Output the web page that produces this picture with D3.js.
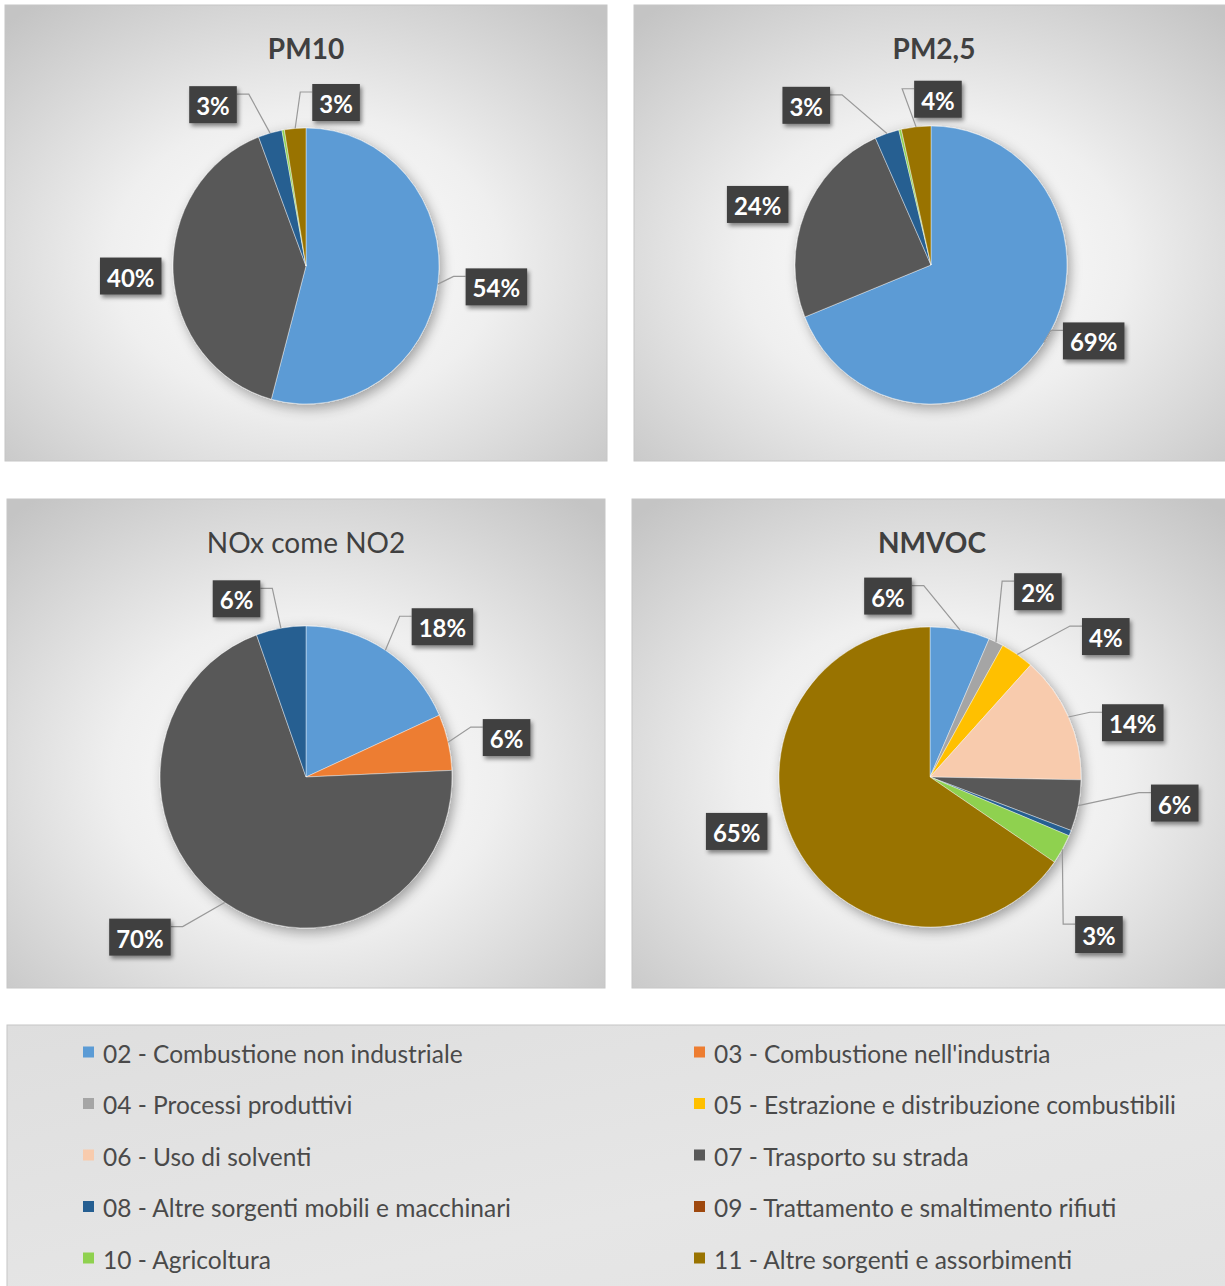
<!DOCTYPE html>
<html><head><meta charset="utf-8">
<script src="https://cdn.jsdelivr.net/npm/d3@7"></script>
<style>body{margin:0;background:#fff;} svg{display:block;}</style>
</head><body><svg id="chart" width="1225" height="1286"></svg>
<script>
// ---------- DATA ----------
const categories = [
  "02 - Combustione non industriale",
  "03 - Combustione nell'industria",
  "04 - Processi produttivi",
  "05 - Estrazione e distribuzione combustibili",
  "06 - Uso di solventi",
  "07 - Trasporto su strada",
  "08 - Altre sorgenti mobili e macchinari",
  "09 - Trattamento e smaltimento rifiuti",
  "10 - Agricoltura",
  "11 - Altre sorgenti e assorbimenti"
];
const pollutants = ["PM10", "PM2,5", "NOx come NO2", "NMVOC"];
// share (%) per category, same order as categories
const pm10Values  = [54.2, 0, 0, 0, 0, 40.0, 2.9, 0, 0.3, 2.6];
const pm25Values  = [68.9, 0, 0, 0, 0, 24.4, 2.9, 0, 0.3, 3.5];
const noxValues   = [18.3, 6.0, 0, 0, 0, 70.2, 5.5, 0, 0, 0];
const nmvocValues = [6.4, 0, 1.6, 3.6, 13.7, 5.5, 0.6, 0, 3.2, 65.4];
const seriesValues = [pm10Values, pm25Values, noxValues, nmvocValues];

// ---------- STYLE / LAYOUT ----------
const colors = ["#5B9BD5","#ED7D31","#A5A5A5","#FFC000","#F8CBAD","#595959","#255E91","#9E480E","#8FD14F","#997300"];
// label layout: category index -> [angle shift (deg) from slice middle, distance in radii, leader line]
const panels = [
  {x:5,   y:5,   w:602, h:456, cx:301, cy:261, rx:133, ry:138, weight:700,
   labels:{0:[-1.3,1.44,true],5:[-0.4,1.32,false],6:[-14.3,1.40,true],9:[15.1,1.25,true]}},
  {x:634, y:5,   w:600, h:456, cx:297, cy:260, rx:136, ry:139, weight:700,
   labels:{0:[-9,1.32,true],5:[-2.7,1.35,false],6:[-19.1,1.49,true],9:[8.7,1.22,true]}},
  {x:7,   y:499, w:598, h:489, cx:299, cy:278, rx:146, ry:151, weight:400,
   labels:{0:[9.3,1.39,true],1:[2.2,1.40,true],5:[12.2,1.58,true],6:[-11.4,1.31,true]}},
  {x:632, y:499, w:600, h:489, cx:298, cy:278, rx:151, ry:150, weight:700,
   labels:{0:[-24.6,1.23,true],2:[4.3,1.42,true],3:[16.1,1.49,true],4:[8.6,1.39,true],5:[-4.9,1.63,true],8:[14.2,1.53,true],9:[12.0,1.33,false]}}
];
const FONT = "Lato, 'Open Sans', 'DejaVu Sans', sans-serif";

const svg = d3.select("#chart");
svg.append("rect").attr("width",1225).attr("height",1286).attr("fill","#fff");
const defs = svg.append("defs");
const rg = defs.append("radialGradient").attr("id","panelBg").attr("cx","50%").attr("cy","56%").attr("r","72%");
rg.append("stop").attr("offset","0").attr("stop-color","#ffffff");
rg.append("stop").attr("offset","0.45").attr("stop-color","#efefef");
rg.append("stop").attr("offset","1").attr("stop-color","#c4c4c4");
const lg = defs.append("linearGradient").attr("id","legendBg").attr("x1","0").attr("y1","0").attr("x2","1").attr("y2","1");
lg.append("stop").attr("offset","0").attr("stop-color","#dedede");
lg.append("stop").attr("offset","0.6").attr("stop-color","#e6e6e6");
lg.append("stop").attr("offset","1").attr("stop-color","#e2e2e2");
const ps = defs.append("filter").attr("id","pieShadow").attr("x","-30%").attr("y","-30%").attr("width","160%").attr("height","160%");
ps.append("feDropShadow").attr("dx",3).attr("dy",4).attr("stdDeviation",6).attr("flood-color","#000").attr("flood-opacity",0.35);
const bs = defs.append("filter").attr("id","boxShadow").attr("x","-30%").attr("y","-30%").attr("width","160%").attr("height","160%");
bs.append("feDropShadow").attr("dx",2).attr("dy",3).attr("stdDeviation",2).attr("flood-color","#000").attr("flood-opacity",0.45);

const pie = d3.pie().sort(null).value(d => d.v);

panels.forEach((p, i) => {
  const g = svg.append("g").attr("transform", `translate(${p.x},${p.y})`);
  g.append("rect").attr("width", p.w).attr("height", p.h)
    .attr("fill","url(#panelBg)").attr("stroke","#c6c6c6").attr("stroke-width",1);
  g.append("text").attr("x", p.w/2).attr("y", 54).attr("text-anchor","middle")
    .attr("font-family", FONT).attr("font-size", 28).attr("font-weight", p.weight)
    .attr("fill","#404040").text(pollutants[i]);

  const arcs = pie(seriesValues[i].map((v,k) => ({v, k})));
  const arc = d3.arc().innerRadius(0).outerRadius(p.rx);
  const pg = g.append("g")
    .attr("transform", `translate(${p.cx},${p.cy}) scale(1,${p.ry/p.rx})`)
    .attr("filter","url(#pieShadow)");
  pg.selectAll("path").data(arcs.filter(a => a.data.v > 0)).join("path")
    .attr("d", arc).attr("fill", d => colors[d.data.k])
    .attr("stroke","rgba(255,255,255,0.5)").attr("stroke-width",0.8);

  const lines = g.append("g");
  const labs = g.append("g");
  arcs.filter(a => a.data.v >= 1.5).forEach(a => {
    const k = a.data.k;
    const lay = p.labels[k] || [0, 1.35, false];
    const mid = (a.startAngle + a.endAngle) / 2;
    const ang = mid + lay[0] * Math.PI / 180;
    const lx = p.cx + lay[1] * p.rx * Math.sin(ang);
    const ly = p.cy - lay[1] * p.rx * Math.cos(ang);
    const lbl = labs.append("g");
    const rect = lbl.append("rect").attr("fill","#3f3f3f").attr("filter","url(#boxShadow)");
    const t = lbl.append("text").attr("x", lx).attr("y", ly + 1)
      .attr("text-anchor","middle").attr("dominant-baseline","central")
      .attr("font-family", FONT).attr("font-size", 24).attr("font-weight", 700)
      .attr("fill","#fff").text(Math.round(a.data.v) + "%");
    const tw = t.node().getComputedTextLength();
    const bw = tw + 14, bh = 37;
    const bx = lx - bw/2, by = ly - bh/2;
    rect.attr("x", bx).attr("y", by).attr("width", bw).attr("height", bh);
    if (lay[2]) {
      const ex = p.cx + p.rx * Math.sin(mid);
      const ey = p.cy - p.ry * Math.cos(mid);
      let pts;
      if (bx >= ex - 10) {
        const ay = by + 8;
        pts = [[ex,ey],[bx - 12, ay],[bx, ay]];
      } else if (bx + bw <= ex + 10) {
        const ay = by + 8;
        pts = [[ex,ey],[bx + bw + 12, ay],[bx + bw, ay]];
      } else {
        pts = ey > by ? [[ex,ey],[lx, by + bh]] : [[ex,ey],[lx, by]];
      }
      lines.append("path").attr("d", d3.line()(pts))
        .attr("fill","none").attr("stroke","#999").attr("stroke-width",1.2);
    }
  });
});

// ---------- LEGEND ----------
const leg = svg.append("g");
leg.append("rect").attr("x",7).attr("y",1025).attr("width",1230).attr("height",270)
  .attr("fill","url(#legendBg)").attr("stroke","#c6c6c6");
const colX = [83, 694];
categories.forEach((c, k) => {
  const x = colX[k % 2];
  const y = 1052 + Math.floor(k / 2) * 51.5;
  leg.append("rect").attr("x", x).attr("y", y - 5.5).attr("width", 11).attr("height", 11).attr("fill", colors[k]);
  leg.append("text").attr("x", x + 20).attr("y", y + 1).attr("dominant-baseline","central")
    .attr("font-family", FONT).attr("font-size", 24.5).attr("fill","#4a4a4a").text(c);
});
</script>
</body></html>
